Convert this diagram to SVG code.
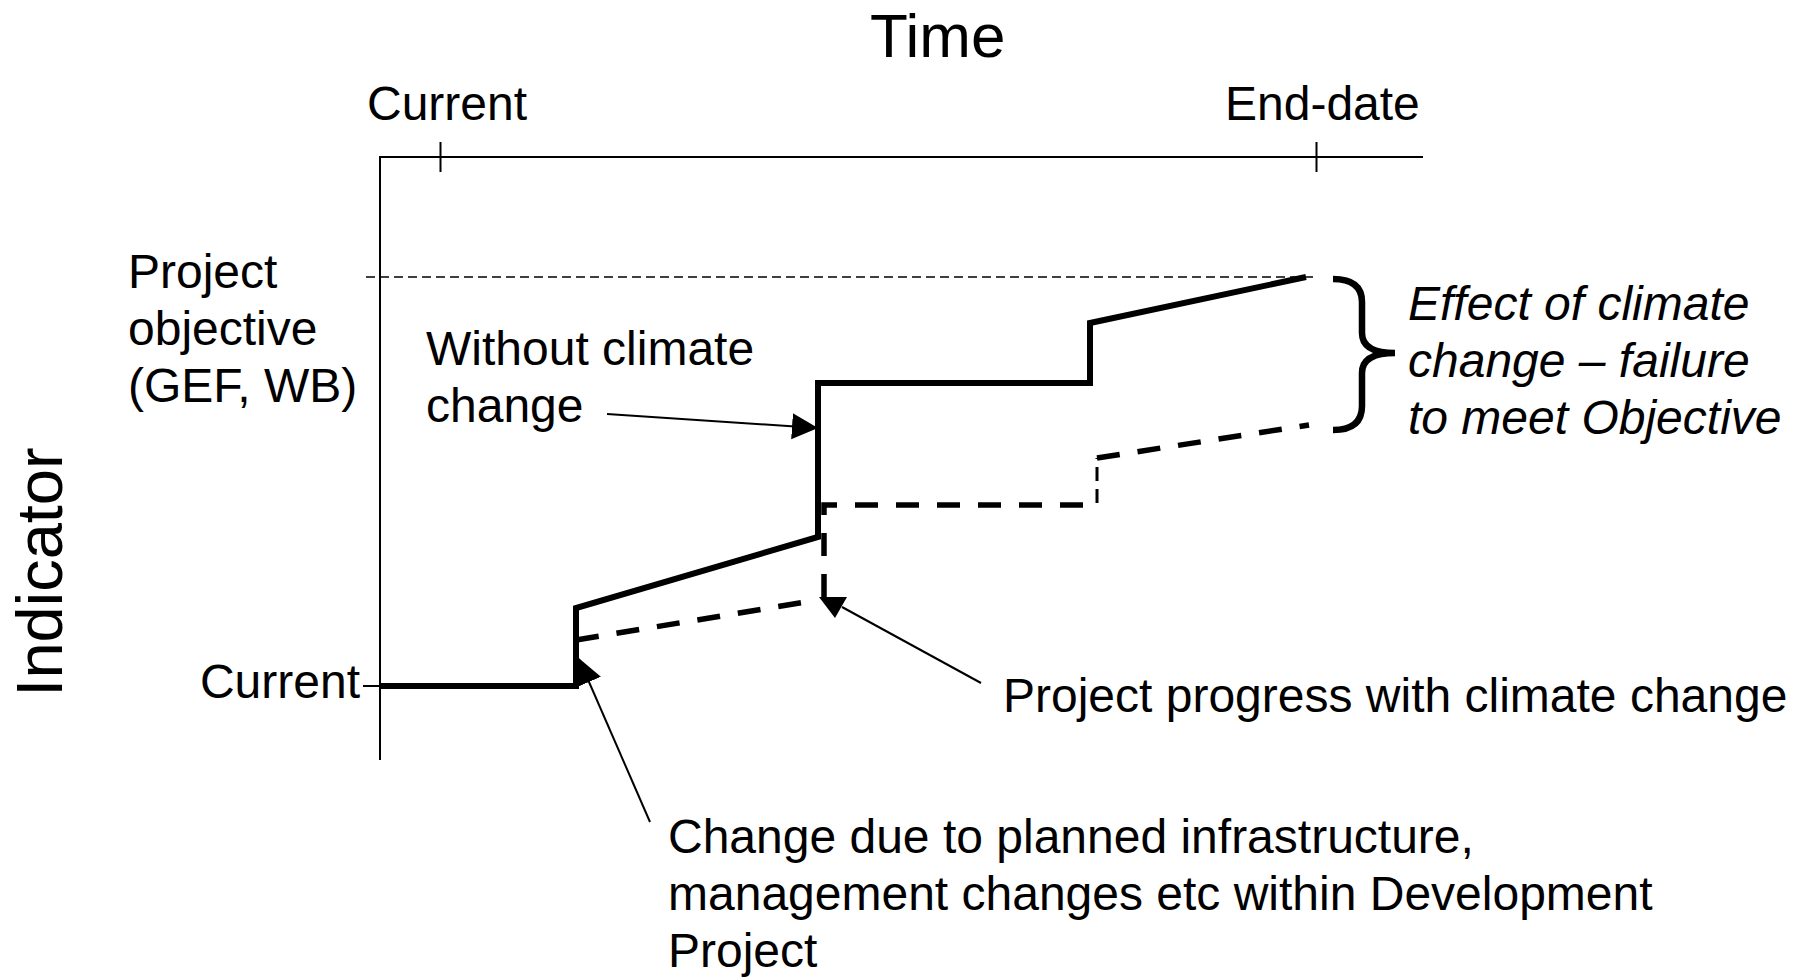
<svg xmlns="http://www.w3.org/2000/svg" width="1806" height="980" viewBox="0 0 1806 980">
<style>
text{font-family:"Liberation Sans",Arial,sans-serif;font-size:48px;fill:#000}
.big{font-size:62px}
.ind{font-size:65px}
.it{font-style:italic}
.thin{stroke:#000;stroke-width:2;fill:none}
.obj{stroke:#000;stroke-width:1.5;fill:none;stroke-dasharray:9 5}
.solid{stroke:#000;stroke-width:6;fill:none;stroke-linejoin:miter}
.dash{stroke:#000;stroke-width:5.5;fill:none;stroke-dasharray:23 18}
.dashthin{stroke:#000;stroke-width:3;fill:none;stroke-dasharray:14 8}
</style>
<defs>
<marker id="ah" markerUnits="userSpaceOnUse" markerWidth="28" markerHeight="28" refX="25" refY="13" orient="auto">
<path d="M0,0 L26,13 L0,26 z" fill="#000"/>
</marker>
</defs>
<rect width="1806" height="980" fill="#fff"/>
<g id="axes">
<path class="thin" d="M380 760 V157 H1423"/>
<path class="thin" d="M440.5 142 V172 M1316.5 142 V172 M363 686 H380"/>
<path class="obj" d="M366 277 H1318"/>
</g>
<g id="title-time"><text class="big" x="870" y="57">Time</text></g>
<g id="title-indicator"><text class="ind" text-anchor="middle" transform="translate(62,572) rotate(-90)">Indicator</text></g>
<g id="label-current-time"><text x="367" y="120">Current</text></g>
<g id="label-end-date"><text x="1225" y="120">End-date</text></g>
<g id="label-objective"><text x="128" y="288">Project</text><text x="128" y="345">objective</text><text x="128" y="402">(GEF, WB)</text></g>
<g id="label-current-indicator"><text x="360" y="698" text-anchor="end">Current</text></g>
<g id="label-without"><text x="426" y="365">Without climate</text><text x="426" y="422">change</text></g>
<g id="label-effect"><text class="it" x="1408" y="320">Effect of climate</text><text class="it" x="1408" y="377">change – failure</text><text class="it" x="1408" y="434">to meet Objective</text></g>
<g id="label-progress"><text x="1003" y="712">Project progress with climate change</text></g>
<g id="label-change"><text x="668" y="853">Change due to planned infrastructure,</text><text x="668" y="910">management changes etc within Development</text><text x="668" y="967">Project</text></g>
<g id="series-without">
<path class="solid" d="M380 686 H576 V608 L818 537 V383 H1090 V323 L1306 277"/>
</g>
<g id="series-with">
<path class="dash" d="M576 640 L818 600"/>
<path class="dash" d="M824 597 V505 H1097"/>
<path class="dashthin" d="M1097 503 V458"/>
<path class="dash" d="M1097 458 L1309 425"/>
<polygon points="819,597 847,597 835,618" fill="#000"/>
</g>
<g id="brace">
<path d="M1333 279 Q1362 279 1362 302 V333 Q1362 353 1395 353 Q1362 353 1362 373 V406 Q1362 430 1333 430" fill="none" stroke="#000" stroke-width="6.5"/>
</g>
<g id="connectors">
<line class="thin" x1="607" y1="414" x2="817" y2="428" marker-end="url(#ah)"/>
<line class="thin" x1="650" y1="822" x2="579" y2="659" marker-end="url(#ah)"/>
<line class="thin" x1="981" y1="683" x2="842" y2="607"/>
</g>
</svg>
